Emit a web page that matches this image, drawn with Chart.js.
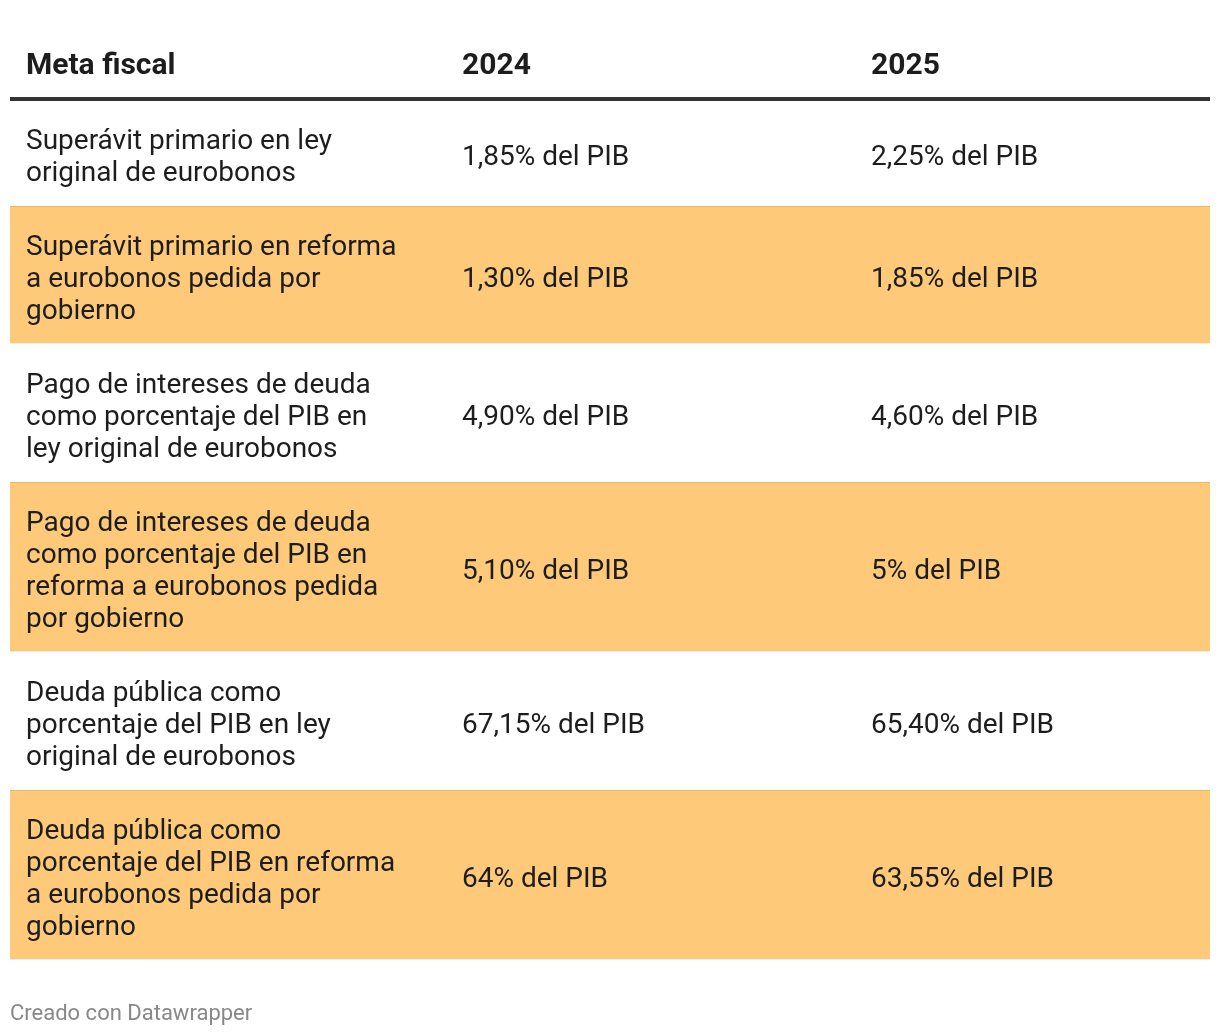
<!DOCTYPE html>
<html>
<head>
<meta charset="utf-8">
<script src="https://cdn.jsdelivr.net/npm/chart.js@4.4.1/dist/chart.umd.min.js"></script>
<style>
html, body { margin: 0; padding: 0; background: #fff; }
#wrap { width: 1220px; height: 1036px; }
</style>
</head>
<body>
<div id="wrap"><canvas id="tabla" width="1220" height="1036"></canvas></div>
<script>
// datos de la tabla
const encabezados = ['Meta fiscal', '2024', '2025']
const metas = [
    ['Superávit primario en ley', 'original de eurobonos'],
    ['Superávit primario en reforma', 'a eurobonos pedida por', 'gobierno'],
    ['Pago de intereses de deuda', 'como porcentaje del PIB en', 'ley original de eurobonos'],
    ['Pago de intereses de deuda', 'como porcentaje del PIB en', 'reforma a eurobonos pedida', 'por gobierno'],
    ['Deuda pública como', 'porcentaje del PIB en ley', 'original de eurobonos'],
    ['Deuda pública como', 'porcentaje del PIB en reforma', 'a eurobonos pedida por', 'gobierno']
]
const valores2024 = ['1,85% del PIB', '1,30% del PIB', '4,90% del PIB', '5,10% del PIB', '67,15% del PIB', '64% del PIB']
const valores2025 = ['2,25% del PIB', '1,85% del PIB', '4,60% del PIB', '5% del PIB', '65,40% del PIB', '63,55% del PIB']
const resaltadas = [false, true, false, true, false, true]
const fuente = 'Creado con Datawrapper'

// medidas (en unidades de la escala)
const LINEA = 32
const RELLENO = 42
const INICIO = 100
const columnas = [26, 462, 871]
const izq = 10
const der = 1210

let acumulado = INICIO
const filas = metas.map(m => {
    const alto = m.length * LINEA + RELLENO
    const f = { top: acumulado, bottom: acumulado + alto }
    acumulado += alto
    return f
})

const tablaPlugin = {
    id: 'tabla',
    afterDraw(chart) {
        const ctx = chart.ctx
        const x = chart.scales.x
        const y = chart.scales.y
        const px = v => x.getPixelForValue(v)
        const py = v => y.getPixelForValue(v)
        ctx.save()

        // fondos de filas
        filas.forEach((f, i) => {
            const t = py(f.top), b = py(f.bottom)
            if (resaltadas[i]) {
                ctx.fillStyle = '#fec979'
                ctx.fillRect(px(izq), t, px(der) - px(izq), b - t)
                ctx.fillStyle = '#efb761'
                ctx.fillRect(px(izq), t, px(der) - px(izq), 1)
                ctx.fillStyle = '#ececec'
                ctx.fillRect(px(izq), b - 1, px(der) - px(izq), 1)
            }
        })

        // encabezado
        ctx.fillStyle = '#333333'
        ctx.fillRect(px(izq), py(97), px(der) - px(izq), py(101) - py(97))
        ctx.fillStyle = '#1d1d1d'
        ctx.font = 'bold 30px Roboto'
        ctx.textBaseline = 'alphabetic'
        ctx.textAlign = 'left'
        encabezados.forEach((h, i) => ctx.fillText(h, px(columnas[i]), py(74)))

        // celdas
        ctx.font = '28px Roboto'
        filas.forEach((f, i) => {
            const centro = (f.top + f.bottom) / 2
            const lineas = metas[i]
            const primera = centro - (lineas.length - 1) * LINEA / 2 + 12
            lineas.forEach((l, j) => ctx.fillText(l, px(columnas[0]), py(primera + j * LINEA)))
            ctx.fillText(valores2024[i], px(columnas[1]), py(centro + 12))
            ctx.fillText(valores2025[i], px(columnas[2]), py(centro + 12))
        })

        // pie
        ctx.fillStyle = '#888888'
        ctx.font = '22px Roboto'
        ctx.fillText(fuente, px(izq), py(1020))
        ctx.restore()
    }
}

function dibujar() {
    new Chart(document.getElementById('tabla'), {
        type: 'bar',
        data: { labels: [], datasets: [] },
        options: {
            responsive: false,
            devicePixelRatio: 1,
            animation: false,
            events: [],
            layout: { padding: 0 },
            plugins: { legend: { display: false }, tooltip: { enabled: false } },
            scales: {
                x: { type: 'linear', display: false, offset: false, min: 0, max: 1220 },
                y: { type: 'linear', display: false, offset: false, min: 0, max: 1036, reverse: true }
            }
        },
        plugins: [tablaPlugin]
    })
}

Promise.all([document.fonts.load('28px Roboto'), document.fonts.load('bold 30px Roboto')])
    .then(dibujar, dibujar)
</script>
</body>
</html>
